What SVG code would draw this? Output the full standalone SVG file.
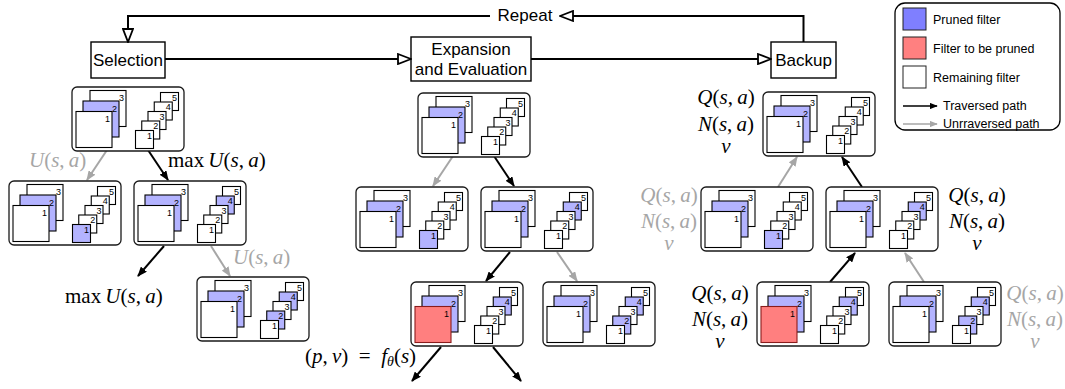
<svg xmlns="http://www.w3.org/2000/svg" width="1065" height="389" viewBox="0 0 1065 389">
<style>
.bx{fill:#fff;stroke:#000;stroke-width:1.4}
.nb{fill:#fff;stroke:#1a1a1a;stroke-width:1.3}
.w{fill:#fff;stroke:#000;stroke-width:1.1}
.b{fill:#b3b3ff;stroke:#000;stroke-width:1.1}
.r{fill:#ff7f7f;stroke:#8a1c1c;stroke-width:1.1}
.num{font-family:"Liberation Sans",Arial,sans-serif;font-size:9px;text-anchor:end}
.lab{font-family:"Liberation Sans",Arial,sans-serif;font-size:17px;text-anchor:middle}
.leg{font-family:"Liberation Sans",Arial,sans-serif;font-size:12.5px}
.m{font-family:"Liberation Serif","Times New Roman",serif;font-size:21px}
.mc{text-anchor:middle}
.i{font-style:italic}
.g{fill:#a6a6a6}
.e{stroke:#000;stroke-width:2;fill:none;marker-end:url(#ah)}
.eg{stroke:#a6a6a6;stroke-width:2;fill:none;marker-end:url(#ahg)}
.ta{stroke:#000;stroke-width:2;fill:none;marker-end:url(#open)}
</style>
<defs>
<marker id="ah" viewBox="0 0 10 8" refX="9" refY="4" markerWidth="10" markerHeight="8" markerUnits="userSpaceOnUse" orient="auto"><path d="M0,0L10,4L0,8z" fill="#000"/></marker>
<marker id="ahg" viewBox="0 0 10 8" refX="9" refY="4" markerWidth="10" markerHeight="8" markerUnits="userSpaceOnUse" orient="auto"><path d="M0,0L10,4L0,8z" fill="#a6a6a6"/></marker>
<marker id="ahs" viewBox="0 0 10 8" refX="9" refY="4" markerWidth="8" markerHeight="6.4" markerUnits="userSpaceOnUse" orient="auto"><path d="M0,0L10,4L0,8z" fill="#000"/></marker>
<marker id="ahsg" viewBox="0 0 10 8" refX="9" refY="4" markerWidth="8" markerHeight="6.4" markerUnits="userSpaceOnUse" orient="auto"><path d="M0,0L10,4L0,8z" fill="#a6a6a6"/></marker>
<marker id="open" viewBox="-1 -1 15 12" refX="13" refY="5" markerWidth="15" markerHeight="12" markerUnits="userSpaceOnUse" orient="auto"><path d="M0,0L13,5L0,10z" fill="#fff" stroke="#000" stroke-width="1.8"/></marker>
</defs>

<!-- top-level process -->
<g id="selection"><rect class="bx" x="91" y="42" width="74" height="36"/><text class="lab" x="128" y="66">Selection</text></g>
<g id="expansion"><rect class="bx" x="411" y="37" width="120" height="44"/><text class="lab" x="471" y="55">Expansion</text><text class="lab" x="471" y="75">and Evaluation</text></g>
<g id="backup"><rect class="bx" x="771" y="42" width="65" height="36"/><text class="lab" x="803.5" y="66">Backup</text></g>
<g id="repeat-label"><text class="lab" x="525" y="21">Repeat</text></g>

<g id="connectors">
<path class="ta" d="M165,59H411"/>
<path class="ta" d="M531,59H771"/>
<path class="ta" d="M803.5,42V16H560"/>
<path class="ta" d="M490,16H128V42"/>
<!-- selection tree -->
<path class="eg" d="M107,150L87,180"/>
<path class="e" d="M148,150L168,180"/>
<path class="e" d="M164,246L138,276"/>
<path class="eg" d="M211,246L230,276"/>
<!-- middle tree -->
<path class="eg" d="M453,156L433,186"/>
<path class="e" d="M494,156L514,186"/>
<path class="e" d="M510,252L486,281"/>
<path class="eg" d="M557,252L577,281"/>
<path class="e" d="M441,347L412,381"/>
<path class="e" d="M493,347L521,381"/>
<!-- backup tree -->
<path class="eg" d="M778,187L797,157"/>
<path class="e" d="M862,187L842,157"/>
<path class="e" d="M830,282L855,253"/>
<path class="eg" d="M924,282L905,253"/>
</g>

<!-- Selection tree nodes -->
<g id="s-root" transform="translate(72,87)">
<rect class="nb" width="112" height="64" rx="5"/>
<rect class="w" x="18" y="3.5" width="36" height="36"/><text class="num" x="52" y="14">3</text>
<rect class="b" x="11" y="14" width="36" height="36"/><text class="num" x="45" y="24.5">2</text>
<rect class="w" x="4" y="24.5" width="36" height="36"/><text class="num" x="38" y="35">1</text>
<rect class="w" x="88.5" y="5.5" width="18" height="18"/><text class="num" x="105" y="13.5">5</text>
<rect class="w" x="82.25" y="15" width="18" height="18"/><text class="num" x="98.75" y="23">4</text>
<rect class="w" x="76" y="24.5" width="18" height="18"/><text class="num" x="92.5" y="32.5">3</text>
<rect class="w" x="69.75" y="34" width="18" height="18"/><text class="num" x="86.25" y="42">2</text>
<rect class="w" x="63.5" y="43.5" width="18" height="18"/><text class="num" x="80" y="51.5">1</text>
</g>
<g id="s-left" transform="translate(9,181)">
<rect class="nb" width="112" height="64" rx="5"/>
<rect class="w" x="18" y="3.5" width="36" height="36"/><text class="num" x="52" y="14">3</text>
<rect class="b" x="11" y="14" width="36" height="36"/><text class="num" x="45" y="24.5">2</text>
<rect class="w" x="4" y="24.5" width="36" height="36"/><text class="num" x="38" y="35">1</text>
<rect class="w" x="88.5" y="5.5" width="18" height="18"/><text class="num" x="105" y="13.5">5</text>
<rect class="w" x="82.25" y="15" width="18" height="18"/><text class="num" x="98.75" y="23">4</text>
<rect class="w" x="76" y="24.5" width="18" height="18"/><text class="num" x="92.5" y="32.5">3</text>
<rect class="w" x="69.75" y="34" width="18" height="18"/><text class="num" x="86.25" y="42">2</text>
<rect class="b" x="63.5" y="43.5" width="18" height="18"/><text class="num" x="80" y="51.5">1</text>
</g>
<g id="s-right" transform="translate(134,181)">
<rect class="nb" width="112" height="64" rx="5"/>
<rect class="w" x="18" y="3.5" width="36" height="36"/><text class="num" x="52" y="14">3</text>
<rect class="b" x="11" y="14" width="36" height="36"/><text class="num" x="45" y="24.5">2</text>
<rect class="w" x="4" y="24.5" width="36" height="36"/><text class="num" x="38" y="35">1</text>
<rect class="w" x="88.5" y="5.5" width="18" height="18"/><text class="num" x="105" y="13.5">5</text>
<rect class="b" x="82.25" y="15" width="18" height="18"/><text class="num" x="98.75" y="23">4</text>
<rect class="w" x="76" y="24.5" width="18" height="18"/><text class="num" x="92.5" y="32.5">3</text>
<rect class="w" x="69.75" y="34" width="18" height="18"/><text class="num" x="86.25" y="42">2</text>
<rect class="w" x="63.5" y="43.5" width="18" height="18"/><text class="num" x="80" y="51.5">1</text>
</g>
<g id="s-grandchild" transform="translate(197,277)">
<rect class="nb" width="112" height="64" rx="5"/>
<rect class="w" x="18" y="3.5" width="36" height="36"/><text class="num" x="52" y="14">3</text>
<rect class="b" x="11" y="14" width="36" height="36"/><text class="num" x="45" y="24.5">2</text>
<rect class="w" x="4" y="24.5" width="36" height="36"/><text class="num" x="38" y="35">1</text>
<rect class="w" x="88.5" y="5.5" width="18" height="18"/><text class="num" x="105" y="13.5">5</text>
<rect class="b" x="82.25" y="15" width="18" height="18"/><text class="num" x="98.75" y="23">4</text>
<rect class="w" x="76" y="24.5" width="18" height="18"/><text class="num" x="92.5" y="32.5">3</text>
<rect class="b" x="69.75" y="34" width="18" height="18"/><text class="num" x="86.25" y="42">2</text>
<rect class="w" x="63.5" y="43.5" width="18" height="18"/><text class="num" x="80" y="51.5">1</text>
</g>

<!-- Expansion tree nodes -->
<g id="e-root" transform="translate(418,93)">
<rect class="nb" width="112" height="64" rx="5"/>
<rect class="w" x="18" y="3.5" width="36" height="36"/><text class="num" x="52" y="14">3</text>
<rect class="b" x="11" y="14" width="36" height="36"/><text class="num" x="45" y="24.5">2</text>
<rect class="w" x="4" y="24.5" width="36" height="36"/><text class="num" x="38" y="35">1</text>
<rect class="w" x="88.5" y="5.5" width="18" height="18"/><text class="num" x="105" y="13.5">5</text>
<rect class="w" x="82.25" y="15" width="18" height="18"/><text class="num" x="98.75" y="23">4</text>
<rect class="w" x="76" y="24.5" width="18" height="18"/><text class="num" x="92.5" y="32.5">3</text>
<rect class="w" x="69.75" y="34" width="18" height="18"/><text class="num" x="86.25" y="42">2</text>
<rect class="w" x="63.5" y="43.5" width="18" height="18"/><text class="num" x="80" y="51.5">1</text>
</g>
<g id="e-left" transform="translate(356,187)">
<rect class="nb" width="112" height="64" rx="5"/>
<rect class="w" x="18" y="3.5" width="36" height="36"/><text class="num" x="52" y="14">3</text>
<rect class="b" x="11" y="14" width="36" height="36"/><text class="num" x="45" y="24.5">2</text>
<rect class="w" x="4" y="24.5" width="36" height="36"/><text class="num" x="38" y="35">1</text>
<rect class="w" x="88.5" y="5.5" width="18" height="18"/><text class="num" x="105" y="13.5">5</text>
<rect class="w" x="82.25" y="15" width="18" height="18"/><text class="num" x="98.75" y="23">4</text>
<rect class="w" x="76" y="24.5" width="18" height="18"/><text class="num" x="92.5" y="32.5">3</text>
<rect class="w" x="69.75" y="34" width="18" height="18"/><text class="num" x="86.25" y="42">2</text>
<rect class="b" x="63.5" y="43.5" width="18" height="18"/><text class="num" x="80" y="51.5">1</text>
</g>
<g id="e-right" transform="translate(481,187)">
<rect class="nb" width="112" height="64" rx="5"/>
<rect class="w" x="18" y="3.5" width="36" height="36"/><text class="num" x="52" y="14">3</text>
<rect class="b" x="11" y="14" width="36" height="36"/><text class="num" x="45" y="24.5">2</text>
<rect class="w" x="4" y="24.5" width="36" height="36"/><text class="num" x="38" y="35">1</text>
<rect class="w" x="88.5" y="5.5" width="18" height="18"/><text class="num" x="105" y="13.5">5</text>
<rect class="b" x="82.25" y="15" width="18" height="18"/><text class="num" x="98.75" y="23">4</text>
<rect class="w" x="76" y="24.5" width="18" height="18"/><text class="num" x="92.5" y="32.5">3</text>
<rect class="w" x="69.75" y="34" width="18" height="18"/><text class="num" x="86.25" y="42">2</text>
<rect class="w" x="63.5" y="43.5" width="18" height="18"/><text class="num" x="80" y="51.5">1</text>
</g>
<g id="e-red" transform="translate(411,282)">
<rect class="nb" width="112" height="64" rx="5"/>
<rect class="w" x="18" y="3.5" width="36" height="36"/><text class="num" x="52" y="14">3</text>
<rect class="b" x="11" y="14" width="36" height="36"/><text class="num" x="45" y="24.5">2</text>
<rect class="r" x="4" y="24.5" width="36" height="36"/><text class="num" x="38" y="35">1</text>
<rect class="w" x="88.5" y="5.5" width="18" height="18"/><text class="num" x="105" y="13.5">5</text>
<rect class="b" x="82.25" y="15" width="18" height="18"/><text class="num" x="98.75" y="23">4</text>
<rect class="w" x="76" y="24.5" width="18" height="18"/><text class="num" x="92.5" y="32.5">3</text>
<rect class="w" x="69.75" y="34" width="18" height="18"/><text class="num" x="86.25" y="42">2</text>
<rect class="w" x="63.5" y="43.5" width="18" height="18"/><text class="num" x="80" y="51.5">1</text>
</g>
<g id="e-grandchild" transform="translate(543,282)">
<rect class="nb" width="112" height="64" rx="5"/>
<rect class="w" x="18" y="3.5" width="36" height="36"/><text class="num" x="52" y="14">3</text>
<rect class="b" x="11" y="14" width="36" height="36"/><text class="num" x="45" y="24.5">2</text>
<rect class="w" x="4" y="24.5" width="36" height="36"/><text class="num" x="38" y="35">1</text>
<rect class="w" x="88.5" y="5.5" width="18" height="18"/><text class="num" x="105" y="13.5">5</text>
<rect class="b" x="82.25" y="15" width="18" height="18"/><text class="num" x="98.75" y="23">4</text>
<rect class="w" x="76" y="24.5" width="18" height="18"/><text class="num" x="92.5" y="32.5">3</text>
<rect class="b" x="69.75" y="34" width="18" height="18"/><text class="num" x="86.25" y="42">2</text>
<rect class="w" x="63.5" y="43.5" width="18" height="18"/><text class="num" x="80" y="51.5">1</text>
</g>

<!-- Backup tree nodes -->
<g id="b-root" transform="translate(763,92)">
<rect class="nb" width="112" height="64" rx="5"/>
<rect class="w" x="18" y="3.5" width="36" height="36"/><text class="num" x="52" y="14">3</text>
<rect class="b" x="11" y="14" width="36" height="36"/><text class="num" x="45" y="24.5">2</text>
<rect class="w" x="4" y="24.5" width="36" height="36"/><text class="num" x="38" y="35">1</text>
<rect class="w" x="88.5" y="5.5" width="18" height="18"/><text class="num" x="105" y="13.5">5</text>
<rect class="w" x="82.25" y="15" width="18" height="18"/><text class="num" x="98.75" y="23">4</text>
<rect class="w" x="76" y="24.5" width="18" height="18"/><text class="num" x="92.5" y="32.5">3</text>
<rect class="w" x="69.75" y="34" width="18" height="18"/><text class="num" x="86.25" y="42">2</text>
<rect class="w" x="63.5" y="43.5" width="18" height="18"/><text class="num" x="80" y="51.5">1</text>
</g>
<g id="b-left" transform="translate(701,187)">
<rect class="nb" width="112" height="64" rx="5"/>
<rect class="w" x="18" y="3.5" width="36" height="36"/><text class="num" x="52" y="14">3</text>
<rect class="b" x="11" y="14" width="36" height="36"/><text class="num" x="45" y="24.5">2</text>
<rect class="w" x="4" y="24.5" width="36" height="36"/><text class="num" x="38" y="35">1</text>
<rect class="w" x="88.5" y="5.5" width="18" height="18"/><text class="num" x="105" y="13.5">5</text>
<rect class="w" x="82.25" y="15" width="18" height="18"/><text class="num" x="98.75" y="23">4</text>
<rect class="w" x="76" y="24.5" width="18" height="18"/><text class="num" x="92.5" y="32.5">3</text>
<rect class="w" x="69.75" y="34" width="18" height="18"/><text class="num" x="86.25" y="42">2</text>
<rect class="b" x="63.5" y="43.5" width="18" height="18"/><text class="num" x="80" y="51.5">1</text>
</g>
<g id="b-right" transform="translate(826,187)">
<rect class="nb" width="112" height="64" rx="5"/>
<rect class="w" x="18" y="3.5" width="36" height="36"/><text class="num" x="52" y="14">3</text>
<rect class="b" x="11" y="14" width="36" height="36"/><text class="num" x="45" y="24.5">2</text>
<rect class="w" x="4" y="24.5" width="36" height="36"/><text class="num" x="38" y="35">1</text>
<rect class="w" x="88.5" y="5.5" width="18" height="18"/><text class="num" x="105" y="13.5">5</text>
<rect class="b" x="82.25" y="15" width="18" height="18"/><text class="num" x="98.75" y="23">4</text>
<rect class="w" x="76" y="24.5" width="18" height="18"/><text class="num" x="92.5" y="32.5">3</text>
<rect class="w" x="69.75" y="34" width="18" height="18"/><text class="num" x="86.25" y="42">2</text>
<rect class="w" x="63.5" y="43.5" width="18" height="18"/><text class="num" x="80" y="51.5">1</text>
</g>
<g id="b-red" transform="translate(757,282)">
<rect class="nb" width="112" height="64" rx="5"/>
<rect class="w" x="18" y="3.5" width="36" height="36"/><text class="num" x="52" y="14">3</text>
<rect class="b" x="11" y="14" width="36" height="36"/><text class="num" x="45" y="24.5">2</text>
<rect class="r" x="4" y="24.5" width="36" height="36"/><text class="num" x="38" y="35">1</text>
<rect class="w" x="88.5" y="5.5" width="18" height="18"/><text class="num" x="105" y="13.5">5</text>
<rect class="b" x="82.25" y="15" width="18" height="18"/><text class="num" x="98.75" y="23">4</text>
<rect class="w" x="76" y="24.5" width="18" height="18"/><text class="num" x="92.5" y="32.5">3</text>
<rect class="w" x="69.75" y="34" width="18" height="18"/><text class="num" x="86.25" y="42">2</text>
<rect class="w" x="63.5" y="43.5" width="18" height="18"/><text class="num" x="80" y="51.5">1</text>
</g>
<g id="b-grandchild" transform="translate(889,282)">
<rect class="nb" width="112" height="64" rx="5"/>
<rect class="w" x="18" y="3.5" width="36" height="36"/><text class="num" x="52" y="14">3</text>
<rect class="b" x="11" y="14" width="36" height="36"/><text class="num" x="45" y="24.5">2</text>
<rect class="w" x="4" y="24.5" width="36" height="36"/><text class="num" x="38" y="35">1</text>
<rect class="w" x="88.5" y="5.5" width="18" height="18"/><text class="num" x="105" y="13.5">5</text>
<rect class="b" x="82.25" y="15" width="18" height="18"/><text class="num" x="98.75" y="23">4</text>
<rect class="w" x="76" y="24.5" width="18" height="18"/><text class="num" x="92.5" y="32.5">3</text>
<rect class="b" x="69.75" y="34" width="18" height="18"/><text class="num" x="86.25" y="42">2</text>
<rect class="w" x="63.5" y="43.5" width="18" height="18"/><text class="num" x="80" y="51.5">1</text>
</g>

<!-- math labels -->
<g id="math-labels">
<text class="m g" x="29" y="167"><tspan class="i">U</tspan>(<tspan class="i">s</tspan>,&#8201;<tspan class="i">a</tspan>)</text>
<text class="m" x="168" y="167">max&#8201;<tspan class="i">U</tspan>(<tspan class="i">s</tspan>,&#8201;<tspan class="i">a</tspan>)</text>
<text class="m" x="65" y="303">max&#8201;<tspan class="i">U</tspan>(<tspan class="i">s</tspan>,&#8201;<tspan class="i">a</tspan>)</text>
<text class="m g" x="233" y="264"><tspan class="i">U</tspan>(<tspan class="i">s</tspan>,&#8201;<tspan class="i">a</tspan>)</text>
<text class="m" x="305" y="363">(<tspan class="i">p</tspan>,&#8201;<tspan class="i">v</tspan>)&#8194;=&#8194;<tspan class="i">f</tspan><tspan class="i" font-size="14" dy="3">θ</tspan><tspan dy="-3">(</tspan><tspan class="i">s</tspan>)</text>

<text class="m mc" x="726" y="104"><tspan class="i">Q</tspan>(<tspan class="i">s</tspan>,&#8201;<tspan class="i">a</tspan>)</text>
<text class="m mc" x="726" y="131"><tspan class="i">N</tspan>(<tspan class="i">s</tspan>,&#8201;<tspan class="i">a</tspan>)</text>
<text class="m mc i" x="726" y="153">v</text>

<text class="m mc g" x="669" y="202"><tspan class="i">Q</tspan>(<tspan class="i">s</tspan>,&#8201;<tspan class="i">a</tspan>)</text>
<text class="m mc g" x="669" y="228"><tspan class="i">N</tspan>(<tspan class="i">s</tspan>,&#8201;<tspan class="i">a</tspan>)</text>
<text class="m mc i g" x="669" y="250">v</text>

<text class="m mc" x="977" y="202"><tspan class="i">Q</tspan>(<tspan class="i">s</tspan>,&#8201;<tspan class="i">a</tspan>)</text>
<text class="m mc" x="977" y="228"><tspan class="i">N</tspan>(<tspan class="i">s</tspan>,&#8201;<tspan class="i">a</tspan>)</text>
<text class="m mc i" x="977" y="250">v</text>

<text class="m mc" x="720" y="300"><tspan class="i">Q</tspan>(<tspan class="i">s</tspan>,&#8201;<tspan class="i">a</tspan>)</text>
<text class="m mc" x="720" y="326"><tspan class="i">N</tspan>(<tspan class="i">s</tspan>,&#8201;<tspan class="i">a</tspan>)</text>
<text class="m mc i" x="720" y="348">v</text>

<text class="m mc g" x="1035" y="300"><tspan class="i">Q</tspan>(<tspan class="i">s</tspan>,&#8201;<tspan class="i">a</tspan>)</text>
<text class="m mc g" x="1035" y="326"><tspan class="i">N</tspan>(<tspan class="i">s</tspan>,&#8201;<tspan class="i">a</tspan>)</text>
<text class="m mc i g" x="1035" y="348">v</text>
</g>

<!-- legend -->
<g id="legend">
<rect x="895" y="3" width="165" height="127" rx="10" fill="#fff" stroke="#000" stroke-width="1.3"/>
<rect x="903" y="8" width="23" height="22" fill="#7f7fff" stroke="#222" stroke-width="1"/>
<text class="leg" x="933" y="24">Pruned filter</text>
<rect x="903" y="37" width="23" height="22" fill="#ff8080" stroke="#222" stroke-width="1"/>
<text class="leg" x="933" y="53">Filter to be pruned</text>
<rect x="903" y="66" width="23" height="22" fill="#fff" stroke="#222" stroke-width="1"/>
<text class="leg" x="933" y="82">Remaining filter</text>
<path d="M903,106H937" stroke="#000" stroke-width="1.5" marker-end="url(#ahs)"/>
<text class="leg" x="943" y="110">Traversed path</text>
<path d="M903,124H937" stroke="#a6a6a6" stroke-width="1.5" marker-end="url(#ahsg)"/>
<text class="leg" x="943" y="128">Unrraversed path</text>
</g>
</svg>
